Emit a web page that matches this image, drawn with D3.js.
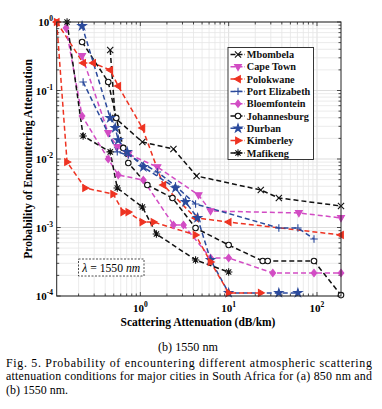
<!DOCTYPE html>
<html>
<head>
<meta charset="utf-8">
<script src="https://cdn.jsdelivr.net/npm/d3@7"></script>
<style>
  body { margin: 0; background: #fff; }
  svg { display: block; }
  svg text { font-family: "Liberation Serif", "Times New Roman", Times, serif; }
</style>
</head>
<body>
<svg id="chart" width="382" height="409"></svg>
<script>
// data: [attenuation dB/km, probability]
const mbombela = [[0.456,0.39],[0.52,0.0397],[1.054,0.0177],[2.37,0.014],[4.33,0.00565],[23.1,0.00353],[37,0.0027],[187,0.00206]];
const capeTown = [[0.219,0.319],[0.433,0.024],[0.548,0.015],[0.731,0.0118],[1.56,0.00764],[4.56,0.00298],[6.24,0.00174],[62.4,0.00163],[187,0.00138]];
const polokwane = [[0.113,1],[0.225,0.252],[0.292,0.252],[0.456,0.199],[0.562,0.116],[1.054,0.0284],[1.82,0.00417],[4.22,0.00138],[10,0.0012],[187,0.000778]];
const portElizabeth = [[0.225,0.133],[0.548,0.0127],[0.731,0.0114],[1.56,0.00646],[2.5,0.00403],[4.22,0.0022],[37,0.000984],[60.8,0.000984],[92.5,0.00068]];
const bloemfontein = [[0.144,0.817],[0.219,0.0424],[0.433,0.01],[0.562,0.00584],[1.082,0.00493],[2.37,0.00109],[3.08,0.00109],[6.24,0.000359],[10,0.000359],[31.6,0.000217],[92.5,0.000217],[187,0.000217]];
const johannesburg = [[0.219,0.511],[0.433,0.133],[0.534,0.0397],[0.641,0.0145],[0.731,0.00874],[1.2,0.00417],[2.31,0.0027],[4.22,0.000984],[10,0.000555],[24.3,0.000324],[27.7,0.000324],[92.5,0.000324],[187,0.000103]];
const durban = [[0.219,0.874],[0.456,0.0397],[0.52,0.0284],[0.562,0.0189],[0.711,0.0127],[1.082,0.00764],[2.5,0.00377],[3.25,0.00236],[4.44,0.00138],[6.24,0.000336],[10,0.000111],[37,0.000111],[60.8,0.000111]];
const kimberley = [[0.113,1],[0.148,0.00904],[0.237,0.00377],[0.493,0.00308],[0.641,0.00168],[0.731,0.00168],[1.054,0.0012],[1.41,0.0012],[4.22,0.000778],[6.24,0.000314],[10,0.000111],[23.1,0.000111]];
const mafikeng = [[0.148,1],[0.225,0.0217],[0.456,0.0127],[0.548,0.00377],[1.054,0.00199],[1.52,0.000804],[4.22,0.000336],[10,0.000224]];

const cities = ["Mbombela","Cape Town","Polokwane","Port Elizabeth","Bloemfontein","Johannesburg","Durban","Kimberley","Mafikeng"];
const seriesValues = [mbombela, capeTown, polokwane, portElizabeth, bloemfontein, johannesburg, durban, kimberley, mafikeng];
const xDomain = [0.113, 187];
const yDomain = [1e-4, 1];

// styles per series
const black = "#111", magenta = "#d24cc4", red = "#ee3322", blue = "#2b4a9c";
const styles = [
  {color: black,   marker: "x"},
  {color: magenta, marker: "tri", rot: 180},
  {color: red,     marker: "tri", rot: -90},
  {color: blue,    marker: "plus"},
  {color: magenta, marker: "diamond"},
  {color: black,   marker: "circle"},
  {color: blue,    marker: "star"},
  {color: red,     marker: "tri", rot: 90},
  {color: black,   marker: "ast"}
];

const svg = d3.select("#chart");
const pL = 56.7, pR = 341, pT = 22, pB = 296;

const x = d3.scaleLog().domain(xDomain).range([pL, pR]);
const y = d3.scaleLog().domain(yDomain).range([pB, pT]);

const isMajor = t => Math.abs(Math.log10(t) - Math.round(Math.log10(t))) < 1e-9;

// shrink/grow a text's font so it spans the wanted width
function fitWidth(sel, target) {
  const w = sel.node().getComputedTextLength();
  const fs = +sel.attr("font-size");
  if (w > 0) sel.attr("font-size", fs * target / w);
}

// grid
const grid = svg.append("g");
x.ticks().forEach(t => {
  grid.append("line")
    .attr("x1", x(t)).attr("x2", x(t)).attr("y1", pT).attr("y2", pB)
    .attr("stroke", isMajor(t) ? "#d4d4d4" : "#e6e6e6").attr("stroke-width", 0.8);
});
y.ticks().forEach(t => {
  grid.append("line")
    .attr("y1", y(t)).attr("y2", y(t)).attr("x1", pL).attr("x2", pR)
    .attr("stroke", isMajor(t) ? "#d4d4d4" : "#e6e6e6").attr("stroke-width", 0.8);
});

// ticks inward on all sides
const tk = svg.append("g").attr("stroke", "#222").attr("stroke-width", 0.8);
x.ticks().forEach(t => {
  const len = isMajor(t) ? 4 : 2.5;
  tk.append("line").attr("x1", x(t)).attr("x2", x(t)).attr("y1", pB).attr("y2", pB - len);
  tk.append("line").attr("x1", x(t)).attr("x2", x(t)).attr("y1", pT).attr("y2", pT + len);
});
y.ticks().forEach(t => {
  const len = isMajor(t) ? 4 : 2.5;
  tk.append("line").attr("y1", y(t)).attr("y2", y(t)).attr("x1", pL).attr("x2", pL + len);
  tk.append("line").attr("y1", y(t)).attr("y2", y(t)).attr("x1", pR).attr("x2", pR - len);
});

// tick labels
const xMajor = [1, 10, 100];
const yMajor = [1e-4, 1e-3, 1e-2, 1e-1, 1];
xMajor.forEach(t => {
  const txt = svg.append("text").attr("x", x(t)).attr("y", 312)
    .attr("text-anchor", "middle").attr("font-weight", "bold").attr("font-size", 11);
  txt.append("tspan").text("10");
  txt.append("tspan").attr("dy", -5).attr("font-size", 7.5).text(Math.round(Math.log10(t)));
});
yMajor.forEach(t => {
  const txt = svg.append("text").attr("x", 53).attr("y", y(t) + 4)
    .attr("text-anchor", "end").attr("font-weight", "bold").attr("font-size", 11);
  txt.append("tspan").text("10");
  txt.append("tspan").attr("dy", -5).attr("font-size", 7.5).text(Math.round(Math.log10(t)));
});

// markers
function markerPath(m, r) {
  switch (m) {
    case "x": return `M${-r},${-r}L${r},${r}M${-r},${r}L${r},${-r}`;
    case "plus": return `M${-r*1.2},0L${r*1.2},0M0,${-r*1.2}L0,${r*1.2}`;
    case "ast": return `M${-r*1.2},0L${r*1.2},0M0,${-r*1.2}L0,${r*1.2}M${-r*0.85},${-r*0.85}L${r*0.85},${r*0.85}M${-r*0.85},${r*0.85}L${r*0.85},${-r*0.85}`;
    case "tri": return `M0,${-r*1.2}L${r*1.1},${r*0.75}L${-r*1.1},${r*0.75}Z`;
    case "diamond": return `M0,${-r*1.15}L${r*0.9},0L0,${r*1.15}L${-r*0.9},0Z`;
    case "circle": return d3.symbol(d3.symbolCircle, r * r * 3.14 * 0.8)();
    case "star": return d3.symbol(d3.symbolStar, r * r * 2.2)();
  }
}
function drawMarker(g, st, px, py) {
  const filled = ["tri", "diamond", "star"].includes(st.marker);
  g.append("path")
    .attr("d", markerPath(st.marker, 3.1))
    .attr("transform", `translate(${px},${py}) rotate(${st.rot || 0})`)
    .attr("fill", filled ? st.color : (st.marker === "circle" ? "#fff" : "none"))
    .attr("stroke", st.color)
    .attr("stroke-width", 1.1);
}

const line = d3.line().x(d => x(d[0])).y(d => y(d[1]));
const plot = svg.append("g");
seriesValues.forEach((vals, i) => {
  plot.append("path").datum(vals).attr("d", line)
    .attr("fill", "none").attr("stroke", styles[i].color).attr("stroke-width", 1.5)
    .attr("stroke-dasharray", "5,3");
});
seriesValues.forEach((vals, i) => {
  vals.forEach(d => drawMarker(plot, styles[i], x(d[0]), y(d[1])));
});

// frame
svg.append("rect").attr("x", pL).attr("y", pT).attr("width", pR - pL).attr("height", pB - pT)
  .attr("fill", "none").attr("stroke", "#222").attr("stroke-width", 1);

// legend
const lg = svg.append("g");
lg.append("rect").attr("x", 228).attr("y", 47.5).attr("width", 85.5).attr("height", 112)
  .attr("fill", "#fff").attr("stroke", "#222").attr("stroke-width", 0.9);
const legendTexts = [];
cities.forEach((c, i) => {
  const cy = 54.5 + i * 12.3;
  lg.append("line").attr("x1", 230.5).attr("x2", 245).attr("y1", cy).attr("y2", cy)
    .attr("stroke", styles[i].color).attr("stroke-width", 1.5).attr("stroke-dasharray", "5,2");
  drawMarker(lg, styles[i], 238, cy);
  legendTexts.push(lg.append("text").attr("x", 246.8).attr("y", cy + 3.6)
    .attr("font-weight", "bold").attr("font-size", 10.4).attr("fill", "#111")
    .text(c));
});
// make the longest name ("Port Elizabeth") end just inside the box
const longest = legendTexts[3];
const lw = longest.node().getComputedTextLength();
const lfs = 10.4 * Math.min(1, 63.5 / lw);
legendTexts.forEach(t => t.attr("font-size", lfs));

// lambda box
svg.append("rect").attr("x", 78.5).attr("y", 259).attr("width", 65.5).attr("height", 17)
  .attr("fill", "#fff").attr("stroke", "#222").attr("stroke-width", 0.8).attr("stroke-dasharray", "2,1.5");
const lt = svg.append("text").attr("x", 111.2).attr("y", 271.5).attr("text-anchor", "middle")
  .attr("font-size", 12.5);
lt.append("tspan").attr("font-style", "italic").text("λ");
lt.append("tspan").text(" = 1550 ");
lt.append("tspan").attr("font-style", "italic").text("nm");
fitWidth(lt, 58);

// axis titles
const xt = svg.append("text").attr("x", 198).attr("y", 326).attr("text-anchor", "middle")
  .attr("font-weight", "bold").attr("font-size", 11.5)
  .text("Scattering Attenuation (dB/km)");
fitWidth(xt, 155);
const yt = svg.append("text").attr("transform", `translate(32,${(pT + pB) / 2}) rotate(-90)`)
  .attr("text-anchor", "middle")
  .attr("font-weight", "bold").attr("font-size", 11.5)
  .text("Probability of Encountering Attenuation");
fitWidth(yt, 200);

// caption
const sub = svg.append("text").attr("x", 188).attr("y", 351).attr("text-anchor", "middle")
  .attr("font-size", 11.3).text("(b) 1550 nm");
fitWidth(sub, 60);
const capLines = [
  "Fig. 5. Probability of encountering different atmospheric scattering",
  "attenuation conditions for major cities in South Africa for (a) 850 nm and",
  "(b) 1550 nm."
];
const capFont = (() => {
  const probe = svg.append("text").attr("font-size", 11).text(capLines[2]);
  const w = probe.node().getComputedTextLength();
  probe.remove();
  return w > 0 ? 11 * 62 / w : 11;
})();
capLines.forEach((t, i) => {
  const el = svg.append("text").attr("x", 6).attr("y", 367 + i * 13.3)
    .attr("font-size", capFont).text(t);
  if (i < 2) el.attr("textLength", 366).attr("lengthAdjust", "spacing");
});
</script>
</body>
</html>
